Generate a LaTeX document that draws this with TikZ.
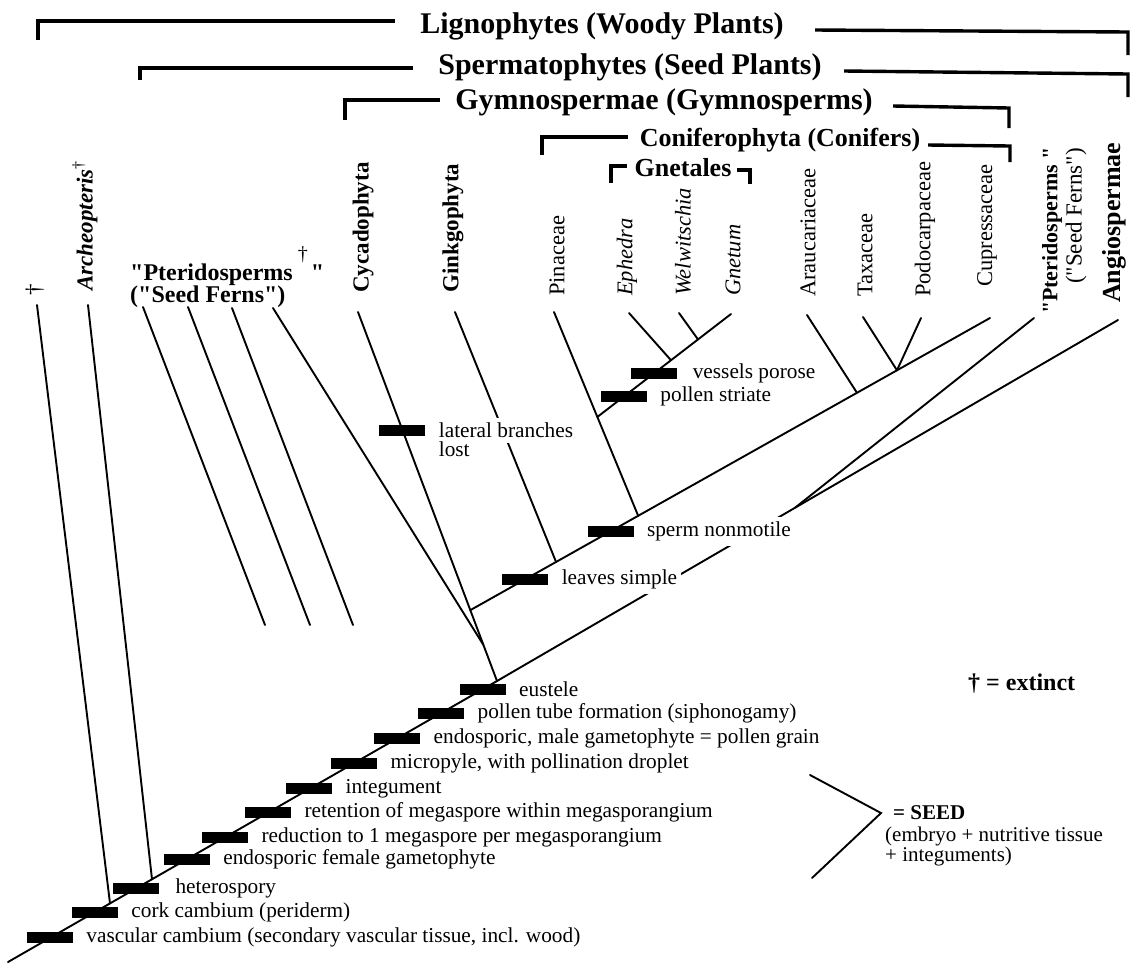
\documentclass[tikz,border=0pt]{standalone}
\usepackage{fontspec}
\setmainfont{Liberation Serif}[Ligatures=TeXOff]
\usetikzlibrary{calc}
\newcommand\fsz[1]{\fontsize{#1}{#1}\selectfont}
\begin{document}
\begin{tikzpicture}[x=1pt,y=-1pt,
  branch/.style={line width=1.9pt, line cap=round},
  clade/.style={line width=3.4pt},
  charbar/.style={rectangle, fill=black, draw=none, minimum width=46pt, minimum height=11pt, inner sep=0pt},
  stemlbl/.style={font=\fsz{21.3}, anchor=west, inner sep=4pt},
  charlbl/.style={stemlbl, fill=white, inner ysep=5pt},
  taxon/.style={rotate=90, anchor=west, inner sep=0pt, font=\fsz{22.5}},
  taxonbf/.style={taxon, font=\fsz{23}\bfseries},
  taxonit/.style={taxon, font=\fsz{22.5}\itshape},
  groupttl/.style={font=\fsz{30}\bfseries, inner sep=0pt},
  subttl/.style={font=\fsz{26}\bfseries, inner sep=0pt},
]
\fill[white] (0,0) rectangle (1131,962);
\useasboundingbox (0,0) rectangle (1131,962);

% ---------- group brackets ----------
\node[groupttl] (lig) at (602,26) {Lignophytes (Woody Plants)};
\draw[clade] (38,40) -- (38,21) -- (395,21);
\draw[clade] (815,30) -- (1128,32) -- (1128,55);

\node[groupttl] (spe) at (630,67) {Spermatophytes (Seed Plants)};
\draw[clade] (140,80) -- (140,68) -- (413,68);
\draw[clade] (844,71) -- (1128,74) -- (1128,97);

\node[groupttl] (gym) at (664,102) {Gymnospermae (Gymnosperms)};
\draw[clade] (345,120) -- (345,100) -- (440,100);
\draw[clade] (893,106) -- (1009,108) -- (1009,128);

\node[subttl] (con) at (780,140) {Coniferophyta (Conifers)};
\draw[clade] (542,155) -- (542,137) -- (628,137);
\draw[clade] (928,145) -- (1010,146) -- (1010,162);

\node[subttl] (gnt) at (683,168) {Gnetales};
\draw[clade] (611,183) -- (611,166) -- (627,166);
\draw[clade] (737,170) -- (750,170) -- (750,184);

% ---------- taxon names ----------
\node[taxon, font=\fsz{23}] (tDag) at (35,296) {†};
\node[taxon, font=\fsz{23}\bfseries\itshape] (tArch) at (85,291) {Archeopteris\textsuperscript{\mdseries\upshape †}};
\node[anchor=north west, inner sep=0pt, align=left, font=\fontsize{24}{20}\bfseries] (tPtL) at (130,246)
  {"Pteridosperms\hspace{5pt}\raisebox{20pt}{\fsz{20}\mdseries †}\hspace{3pt}"\\("Seed Ferns")};
\node[taxonbf] (tCyc) at (363,293) {Cycadophyta};
\node[taxonbf] (tGin) at (453,293) {Ginkgophyta};
\node[taxon] (tPin) at (557,296) {Pinaceae};
\node[taxonit] (tEph) at (627,296) {Ephedra};
\node[taxonit] (tWel) at (683,296) {Welwitschia};
\node[taxonit] (tGne) at (733,296) {Gnetum};
\node[taxon] (tAra) at (808,297) {Araucariaceae};
\node[taxon] (tTax) at (865,297) {Taxaceae};
\node[taxon] (tPod) at (925,297) {Podocarpaceae};
\node[taxon] (tCup) at (987,287) {Cupressaceae};
\node[taxon, anchor=east, font=\fsz{22}\bfseries] (tPtR) at (1052,147) {"Pteridosperms "};
\node[taxon, anchor=east, font=\fsz{23}] (tPtR2) at (1076,148) {("Seed Ferns")};
\node[taxon, font=\fsz{26}\bfseries] (tAng) at (1114,303) {Angiospermae};

% ---------- branch tips ----------
\coordinate (root) at (8,962);
\coordinate (seedn) at (497,681);
\coordinate (dagT) at (37,305);
\coordinate (archT) at (88,305);
\coordinate (pf1T) at (143,307); \coordinate (pf1B) at (265,625);
\coordinate (pf2T) at (188,307); \coordinate (pf2B) at (310,625);
\coordinate (pf3T) at (232,308); \coordinate (pf3B) at (353,625);
\coordinate (pf4T) at (273,308);
\coordinate (cycT) at (358,312);
\coordinate (ginT) at (455,312);
\coordinate (pinT) at (554,312);
\coordinate (ephT) at (629,313);
\coordinate (welT) at (679,313);
\coordinate (gneT) at (731,314);
\coordinate (araT) at (807,315);
\coordinate (taxT) at (863,317);
\coordinate (podT) at (921,318);
\coordinate (cupT) at (990,318);
\coordinate (ptrT) at (1034,318);
\coordinate (angT) at (1118,320);

% ---------- branching points ----------
\coordinate (jDag) at ($(root)!0.2086!(seedn)$);
\coordinate (jArch) at ($(root)!0.2945!(seedn)$);
\coordinate (jCon) at ($(cycT)!0.808!(seedn)$);
\coordinate (jPf4) at ($(cycT)!0.902!(seedn)$);
\coordinate (jGin) at ($(jCon)!0.165!(cupT)$);
\coordinate (jPin) at ($(jCon)!0.323!(cupT)$);
\coordinate (jAra) at ($(jCon)!0.744!(cupT)$);
\coordinate (jTax) at ($(jCon)!0.821!(cupT)$);
\coordinate (jGne) at ($(pinT)!0.515!(jPin)$);
\coordinate (jEph) at ($(jGne)!0.551!(gneT)$);
\coordinate (jWel) at ($(jGne)!0.753!(gneT)$);
\coordinate (jPtR) at ($(seedn)!0.48!(angT)$);

% ---------- branches ----------
\draw[branch] (root) -- (seedn);
\draw[branch] (dagT) -- (jDag);
\draw[branch] (archT) -- (jArch);
\draw[branch] (pf1T) -- (pf1B);
\draw[branch] (pf2T) -- (pf2B);
\draw[branch] (pf3T) -- (pf3B);
\draw[branch] (pf4T) -- (jPf4);
\draw[branch] (cycT) -- (seedn);
\draw[branch] (jCon) -- (cupT);
\draw[branch] (ginT) -- (jGin);
\draw[branch] (pinT) -- (jPin);
\draw[branch] (jGne) -- (gneT);
\draw[branch] (ephT) -- (jEph);
\draw[branch] (welT) -- (jWel);
\draw[branch] (araT) -- (jAra);
\draw[branch] (taxT) -- (jTax);
\draw[branch] (podT) -- (jTax);
\draw[branch] (seedn) -- (angT);
\draw[branch] (ptrT) -- (jPtR);

% ---------- character bars along the main stem ----------
\node[charbar] (c1) at ($(root)!0.086!(seedn)$) {};
\node[charbar] (c2) at ($(root)!0.178!(seedn)$) {};
\node[charbar] (c3) at ($(root)!0.262!(seedn)$) {};
\node[charbar] (c4) at ($(root)!0.366!(seedn)$) {};
\node[charbar] (c5) at ($(root)!0.444!(seedn)$) {};
\node[charbar] (c6) at ($(root)!0.532!(seedn)$) {};
\node[charbar] (c7) at ($(root)!0.616!(seedn)$) {};
\node[charbar] (c8) at ($(root)!0.708!(seedn)$) {};
\node[charbar] (c9) at ($(root)!0.796!(seedn)$) {};
\node[charbar] (c10) at ($(root)!0.886!(seedn)$) {};
\node[charbar] (c11) at ($(root)!0.971!(seedn)$) {};
\node[stemlbl] at ([xshift=9pt]c1.east) {vascular cambium (secondary vascular tissue, incl. wood)};
\node[stemlbl] at ([xshift=9pt]c2.east) {cork cambium (periderm)};
\node[stemlbl] at ([xshift=12pt]c3.east) {heterospory};
\node[stemlbl] at ([xshift=9pt]c4.east) {endosporic female gametophyte};
\node[stemlbl] at ([xshift=9pt]c5.east) {reduction to 1 megaspore per megasporangium};
\node[stemlbl] at ([xshift=9pt]c6.east) {retention of megaspore within megasporangium};
\node[stemlbl] at ([xshift=9pt]c7.east) {integument};
\node[stemlbl] at ([xshift=9pt]c8.east) {micropyle, with pollination droplet};
\node[stemlbl] at ([xshift=9pt]c9.east) {endosporic, male gametophyte = pollen grain};
\node[stemlbl] at ([xshift=9pt]c10.east) {pollen tube formation (siphonogamy)};
\node[stemlbl] at ([xshift=9pt]c11.east) {eustele};

% ---------- character bars on the upper branches ----------
\node[charbar] (cLat) at ($(cycT)!0.32!(seedn)$) {};
\node[charbar] (cLvs) at ($(jCon)!0.106!(cupT)$) {};
\node[charbar] (cSpm) at ($(jCon)!0.27!(cupT)$) {};
\node[charbar] (cPol) at ($(jGne)!0.2!(gneT)$) {};
\node[charbar] (cVes) at ($(jGne)!0.427!(gneT)$) {};
\node[charlbl] (lLat) at ([xshift=9pt]cLat.east) {lateral branches};
\node[stemlbl, anchor=north west] at ([yshift=5pt]lLat.south west) {lost};
\node[charlbl] at ([xshift=9pt]cLvs.east) {leaves simple};
\node[charlbl] at ([xshift=9pt]cSpm.east) {sperm nonmotile};
\node[stemlbl] at ([xshift=9pt]cPol.east) {pollen striate};
\node[stemlbl] at ([xshift=11pt]cVes.east) {vessels porose};

% ---------- key and seed brace ----------
\node[anchor=west, inner sep=0pt, font=\fsz{24}\bfseries] (key) at (968,684) {† = extinct};
\coordinate (seedA) at (810,775);
\coordinate (seedTip) at (881,813);
\coordinate (seedB) at (812,878);
\draw[branch] (seedA) -- (seedTip) -- (seedB);
\node[anchor=west, inner sep=0pt, font=\fsz{21}\bfseries] (seed) at ([xshift=12pt]seedTip) {= SEED};
\node[anchor=north west, inner sep=0pt, align=left, font=\fontsize{21}{20}\selectfont] (seedtx) at (885,827)
  {(embryo + nutritive tissue\\+ integuments)};
\end{tikzpicture}
\end{document}
